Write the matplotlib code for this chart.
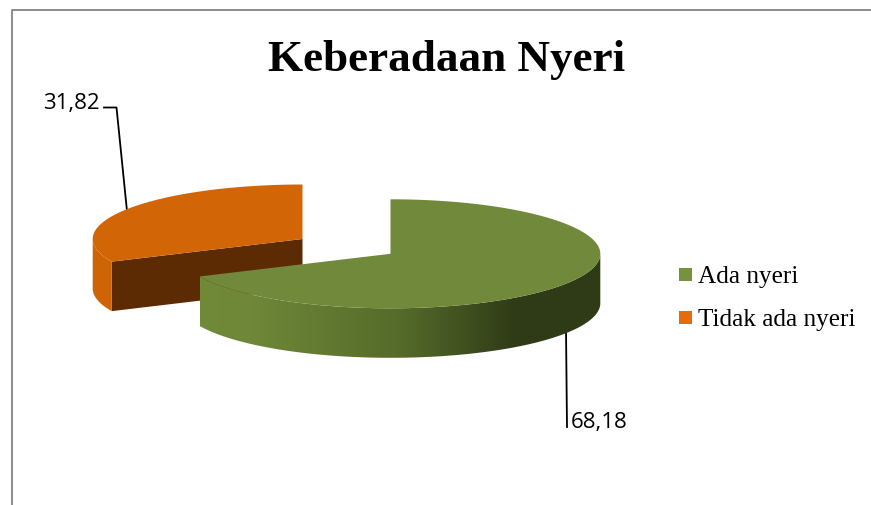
import numpy as np
import matplotlib
matplotlib.use("Agg")
import matplotlib.pyplot as plt
from matplotlib.patches import Polygon, Rectangle
from matplotlib.colors import LinearSegmentedColormap

title = "Keberadaan Nyeri"
categories = ["Ada nyeri", "Tidak ada nyeri"]
values = [68.18, 31.82]
value_labels = ["68,18", "31,82"]

top_colors = ["#71893A", "#D26607"]
legend_colors = ["#76923C", "#E46C0A"]
inner_dark = "#5C2B03"
centers = [(390.5, 254.8), (302.5, 240)]
RX, RY, DEPTH = 209.8, 54.5, 49.5

fig = plt.figure(figsize=(8.71, 5.06), dpi=100)
ax = fig.add_axes([0, 0, 1, 1])
ax.set_xlim(0, 871)
ax.set_ylim(506, 0)
ax.axis("off")


def arc(center, a0, a1, drop=0.0, n=200):
    t = np.radians(np.linspace(a0, a1, n))
    return np.column_stack([center[0] + RX * np.sin(t),
                            center[1] - RY * np.cos(t) + drop])


# chart frame
ax.plot([11.5, 11.5, 871], [506, 10.5, 10.5], color="#8C8C8C", lw=1.4, zorder=1)

angles = np.concatenate([[0], np.cumsum(values) / np.sum(values) * 360])
green_start, green_end = angles[0], angles[1]
orange_start, orange_end = angles[1], angles[2]

# leader lines
ax.plot([104, 116.5, 127], [108.5, 108.5, 212], color="black", lw=1.3, zorder=2)
ax.plot([566, 567], [330, 428], color="black", lw=1.3, zorder=2)

# orange slice (drawn first: behind the green one)
c = centers[1]
edge = arc(c, orange_start, orange_start, n=1)[0]
ax.add_patch(Polygon([c, edge, (edge[0], edge[1] + DEPTH), (c[0], c[1] + DEPTH)],
                     closed=True, fc=inner_dark, ec="none", zorder=3))
wall_top = arc(c, orange_start, 270)
wall_bot = arc(c, orange_start, 270, DEPTH)
ax.add_patch(Polygon(np.vstack([wall_top, wall_bot[::-1]]), closed=True,
                     fc="#CE6406", ec="none", zorder=3))
ax.add_patch(Polygon(np.vstack([[c], arc(c, orange_start, orange_end)]), closed=True,
                     fc=top_colors[1], ec="none", zorder=4))

# green slice
c = centers[0]
wall_top = arc(c, 90, green_end)
wall_bot = arc(c, 90, green_end, DEPTH)
wall = Polygon(np.vstack([wall_top, wall_bot[::-1]]), closed=True, fc="none", ec="none", zorder=5)
ax.add_patch(wall)
cmap = LinearSegmentedColormap.from_list(
    "side", [(0, "#708A39"), (0.13, "#6E8738"), (0.5, "#556B2A"),
             (0.78, "#303C17"), (1, "#2F3A16")])
img = ax.imshow(np.linspace(0, 1, 256)[None, :], extent=(200, 601, 370, 240), cmap=cmap,
                aspect="auto", zorder=5, interpolation="bilinear")
img.set_clip_path(wall)
ax.set_xlim(0, 871)
ax.set_ylim(506, 0)
ax.add_patch(Polygon(np.vstack([[c], arc(c, green_start, green_end)]), closed=True,
                     fc=top_colors[0], ec="none", zorder=6))

# texts
ax.text(447, 59.5, title, family="Liberation Serif", weight="bold", fontsize=32.5,
        ha="center", va="center", color="black", zorder=7)
ax.text(71, 103, value_labels[1], family="Open Sans", fontsize=16, ha="center",
        va="center", color="black", zorder=7)
ax.text(599.5, 423, value_labels[0], family="Open Sans", fontsize=16, ha="center",
        va="center", color="black", zorder=7)

# legend
for name, col, y in zip(categories, legend_colors, [275.5, 318.5]):
    ax.add_patch(Rectangle((679, y - 6.5), 13, 13, fc=col, ec="none", zorder=7))
    ax.text(698, y + 1.5, name, family="Liberation Serif", fontsize=18.2, ha="left",
            va="center", color="black", zorder=7)

fig.savefig("out.png", dpi=100, facecolor="white")
